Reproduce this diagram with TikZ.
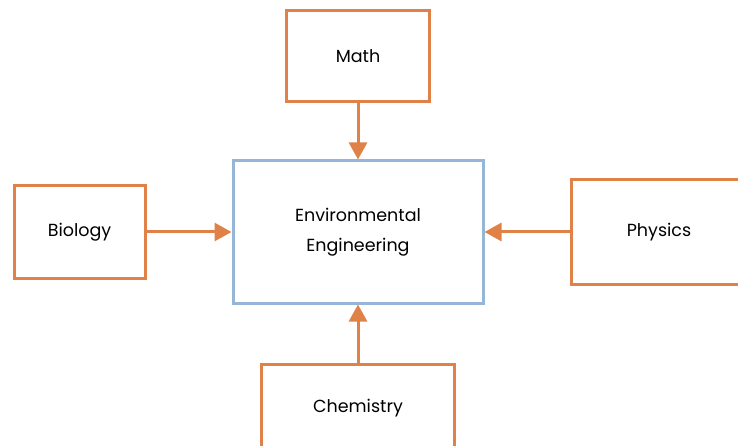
\documentclass[tikz,border=0pt]{standalone}
\usepackage{fontspec}
\setmainfont{Poppins}
\usepackage{tikz}
\usetikzlibrary{arrows.meta, positioning}
\definecolor{fieldorange}{RGB}{224,130,72}
\definecolor{coreblue}{RGB}{149,182,214}

\begin{document}
\begin{tikzpicture}[
  x=1pt, y=-1pt,
  field/.style={draw=fieldorange, line width=3pt, fill=white,
                align=center, font=\fontsize{17.5}{30}\selectfont},
  core/.style={draw=coreblue, line width=3pt, fill=white,
               minimum width=250pt, minimum height=142pt,
               align=center, font=\fontsize{17.5}{30}\selectfont},
  arrow/.style={-{Triangle[length=17pt, width=18pt]},
                line width=3pt, color=fieldorange},
]
\useasboundingbox (0,0) rectangle (738,446);

\node[core] (eng) at (358,232) {Environmental\\Engineering};

\node[field, minimum width=143pt, minimum height=91pt,
      above=56pt of eng] (math) {Math};
\node[field, minimum width=131pt, minimum height=92pt,
      left=85pt of eng] (bio) {Biology};
\node[field, minimum width=176pt, minimum height=105pt,
      right=85pt of eng] (phys) {Physics};
\node[field, minimum width=193pt, minimum height=88pt,
      below=58pt of eng] (chem) {Chemistry};

\draw[arrow] (math) -- (eng);
\draw[arrow] (bio) -- (eng);
\draw[arrow] (phys) -- (eng);
\draw[arrow] (chem) -- (eng);
\end{tikzpicture}
\end{document}
